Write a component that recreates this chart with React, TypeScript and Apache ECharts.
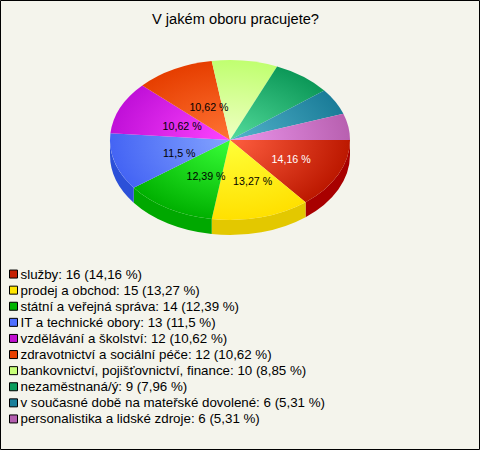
import React, { useEffect, useRef } from "react";
import * as echarts from "echarts";

const categories = [
  "služby",
  "prodej a obchod",
  "státní a veřejná správa",
  "IT a technické obory",
  "vzdělávání a školství",
  "zdravotnictví a sociální péče",
  "bankovnictví, pojišťovnictví, finance",
  "nezaměstnaná/ý",
  "v současné době na mateřské dovolené",
  "personalistika a lidské zdroje",
];
const values = [16, 15, 14, 13, 12, 12, 10, 9, 6, 6];
const percentLabels = ["14,16", "13,27", "12,39", "11,5", "10,62", "10,62", "8,85", "7,96", "5,31", "5,31"];
const legendColors = ["#c41e00", "#ffe600", "#00b400", "#4f6fff", "#c010d0", "#e84000", "#c8ff78", "#0a9c5c", "#1a7f9a", "#b45fb0"];
const innerColors = ["#ff5f40", "#ffff38", "#38ff38", "#84a4ff", "#ff44ff", "#ff7434", "#f0ffc4", "#54dc9c", "#54b4cc", "#ec96ec"];
const outerColors = ["#bc1800", "#ffe000", "#00b000", "#4464f4", "#c010d8", "#e63e00", "#c0ff70", "#0c9858", "#1a7c98", "#b860b0"];
const wallColors = ["#a80000", "#e3c800", "#00a800", "#2c50d8", "#8a0a96", "#a82e00", "#90b850", "#087040", "#125a70", "#84447e"];
const labelColors = ["#ffffff", "#000000", "#000000", "#000000", "#000000", "#000000"];

const CX = 230;
const CY = 140;
const RX = 120;
const RY = 80;
const DEPTH = 15;
const total = values.reduce((a, b) => a + b, 0);
const starts = values.map((_, i) => values.slice(0, i).reduce((a, b) => a + b, 0));
const angle = (v: number) => (v / total) * Math.PI * 2;

function wallPath(a0: number, a1: number) {
  const s = Math.max(a0, 0);
  const e = Math.min(a1, Math.PI);
  if (e <= s) return null;
  const x0 = CX + RX * Math.cos(s);
  const y0 = CY + RY * Math.sin(s);
  const x1 = CX + RX * Math.cos(e);
  const y1 = CY + RY * Math.sin(e);
  return `M${x0} ${y0}A${RX} ${RY} 0 0 1 ${x1} ${y1}L${x1} ${y1 + DEPTH}A${RX} ${RY} 0 0 0 ${x0} ${y0 + DEPTH}Z`;
}

export default function App() {
  const ref = useRef<HTMLDivElement>(null);
  useEffect(() => {
    document.body.style.margin = "0";
    const chart = echarts.init(ref.current!, null, { renderer: "svg" });
    const legendNames = categories.map((c, i) => `${c}: ${values[i]} (${percentLabels[i]} %)`);
    chart.setOption({
      animation: false,
      backgroundColor: "#f4f4ec",
      title: {
        text: "V jakém oboru pracujete?",
        left: 152,
        top: 6,
        textStyle: { fontFamily: "Liberation Sans", fontSize: 14.67, fontWeight: "normal", color: "#000" },
        padding: [5, 0],
      },
      legend: {
        orient: "vertical",
        left: 9,
        top: 266,
        padding: 0,
        itemGap: 0,
        itemWidth: 8,
        itemHeight: 8,
        selectedMode: false,
        data: legendNames,
        icon: "rect",
        itemStyle: { borderColor: "#000", borderWidth: 1 },
        textStyle: { fontFamily: "Liberation Sans", fontSize: 13.33, color: "#000", lineHeight: 16.1, padding: [0, 0, 0, -2] },
      },
      graphic: [
        {
          type: "rect",
          silent: true,
          shape: { x: 0.5, y: 0.5, width: 479, height: 449 },
          style: { fill: "none", stroke: "#000", lineWidth: 1 },
        },
      ],
      series: values.map((v, i) => ({
        type: "custom",
        name: legendNames[i],
        coordinateSystem: "none",
        silent: true,
        itemStyle: { color: legendColors[i] },
        data: [[v, starts[i]]],
        renderItem: (_params: any, api: any) => {
          const a0 = angle(api.value(1));
          const a1 = a0 + angle(api.value(0));
          const children: any[] = [];
          const d = wallPath(a0, a1);
          if (d) {
            children.push({ type: "path", shape: { pathData: d }, style: { fill: wallColors[i] } });
          }
          children.push({
            type: "sector",
            x: CX,
            y: CY,
            scaleY: RY / RX,
            shape: { cx: 0, cy: 0, r0: 0, r: RX, startAngle: a0, endAngle: a1, clockwise: true },
            style: {
              fill: new echarts.graphic.RadialGradient(
                0,
                0,
                RX,
                [
                  { offset: 0, color: innerColors[i] },
                  { offset: 1, color: outerColors[i] },
                ],
                true
              ),
            },
          });
          if (api.value(0) / total >= 0.1) {
            const mid = (a0 + a1) / 2;
            children.push({
              type: "text",
              z2: 100,
              x: CX + 0.5 * RX * Math.cos(mid) + 7,
              y: CY + 0.5 * RY * Math.sin(mid) + 2,
              style: {
                text: `${percentLabels[i]} %`,
                fill: labelColors[i],
                font: '10.67px "Liberation Sans"',
                align: "center",
                verticalAlign: "middle",
              },
            });
          }
          return { type: "group", children };
        },
      })),
    });
    return () => chart.dispose();
  }, []);
  return <div ref={ref} style={{ width: 480, height: 450 }} />;
}
